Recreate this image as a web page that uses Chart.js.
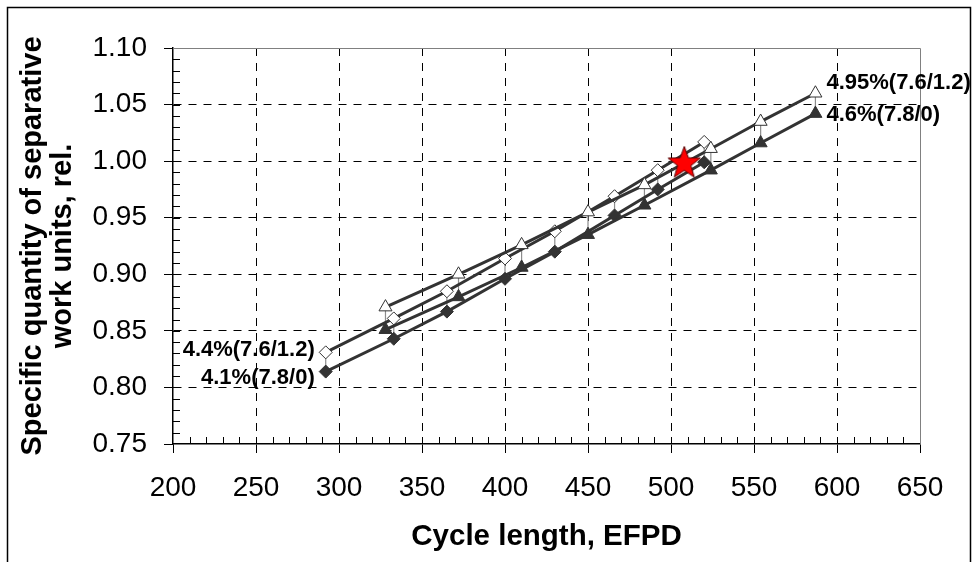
<!DOCTYPE html>
<html>
<head>
<meta charset="utf-8">
<script src="https://cdn.jsdelivr.net/npm/chart.js@4.4.1/dist/chart.umd.min.js"></script>
<style>
  html, body { margin: 0; padding: 0; background: #fff; }
  #wrap { width: 975px; height: 562px; position: relative; }
</style>
</head>
<body>
<div id="wrap"><canvas id="swu-chart"></canvas></div>
<script>
// Triangle pair (open = 4.95% 7.6/1.2, filled = 4.6% 7.8/0)
const X_TRI        = [328, 372, 410, 450, 484, 524, 554, 587];
const Y_TRI_OPEN   = [0.871, 0.900, 0.926, 0.955, 0.979, 1.011, 1.035, 1.060];
const Y_TRI_FILLED = [0.851, 0.880, 0.906, 0.935, 0.961, 0.992, 1.016, 1.042];

// Diamond pair (open = 4.4% 7.6/1.2, filled = 4.1% 7.8/0)
const X_DIA        = [292, 333, 365, 400, 430, 466, 492, 520];
const Y_DIA_OPEN   = [0.831, 0.861, 0.885, 0.914, 0.938, 0.969, 0.992, 1.017];
const Y_DIA_FILLED = [0.814, 0.843, 0.867, 0.896, 0.920, 0.952, 0.975, 0.999];

// Reference point (red star)
const STAR_X = [508];
const STAR_Y = [0.998];

const SERIES_LABELS = ["4.95%(7.6/1.2)", "4.6%(7.8/0)", "4.4%(7.6/1.2)", "4.1%(7.8/0)"];

const X_MIN = 200, X_MAX = 650, X_STEP = 50, X_MINOR = 10;
const Y_MIN = 0.75, Y_MAX = 1.10, Y_STEP = 0.05, Y_MINOR = 0.01;

const FONT = "'Liberation Sans', Arial, sans-serif";
const LINE = "#333333";

function pts(xs, ys) {
    return xs.map((x, i) => ({ x: x, y: ys[i] }));
}

// vertical thin connectors between an open marker and its filled twin
function connectors(xs, yTop, yBot) {
    const out = [];
    xs.forEach((x, i) => {
        out.push({ x: x, y: yTop[i] });
        out.push({ x: x, y: yBot[i] });
        out.push({ x: x, y: null });
    });
    return out;
}

function makeStar(outer, inner) {
    const size = Math.ceil(outer * 2 + 4);
    const c = document.createElement("canvas");
    c.width = size; c.height = size;
    const g = c.getContext("2d");
    const cx = size / 2, cy = size / 2;
    g.beginPath();
    for (let i = 0; i < 10; i++) {
        const r = i % 2 === 0 ? outer : inner;
        const a = -Math.PI / 2 + i * Math.PI / 5;
        const px = cx + r * Math.cos(a), py = cy + r * Math.sin(a);
        if (i === 0) g.moveTo(px, py); else g.lineTo(px, py);
    }
    g.closePath();
    g.fillStyle = "#ff0000";
    g.fill();
    g.lineWidth = 1;
    g.strokeStyle = "#550000";
    g.stroke();
    return c;
}

function series(label, xs, ys, style, filled, order) {
    return {
        label: label,
        data: pts(xs, ys),
        showLine: true,
        borderColor: LINE,
        borderWidth: 3,
        pointStyle: style,
        pointRadius: style === "triangle" ? 7.5 : 6.5,
        pointBackgroundColor: filled ? LINE : "#ffffff",
        pointBorderColor: LINE,
        pointBorderWidth: 1,
        order: order,
    };
}

// frame, plot border, minor ticks and end-of-line labels
const decorPlugin = {
    id: "decor",
    beforeDraw(chart) {
        const ctx = chart.ctx;
        ctx.save();
        ctx.fillStyle = "#fff";
        ctx.fillRect(0, 0, chart.width, chart.height);
        ctx.restore();
    },
    afterDraw(chart) {
        const ctx = chart.ctx;
        const { left, right, top, bottom } = chart.chartArea;
        const xs = chart.scales.x, ys = chart.scales.y;
        ctx.save();

        // outer frame
        ctx.strokeStyle = "#000";
        ctx.lineWidth = 1.5;
        ctx.beginPath();
        ctx.moveTo(7.5, chart.height + 2);
        ctx.lineTo(7.5, 7.5);
        ctx.lineTo(970.5, 7.5);
        ctx.lineTo(970.5, chart.height + 2);
        ctx.stroke();

        // top / right border of the plot area
        ctx.strokeStyle = "#808080";
        ctx.lineWidth = 1;
        ctx.beginPath();
        ctx.moveTo(Math.round(left) + 0.5, Math.round(top) + 0.5);
        ctx.lineTo(Math.round(right) + 0.5, Math.round(top) + 0.5);
        ctx.lineTo(Math.round(right) + 0.5, Math.round(bottom) + 0.5);
        ctx.stroke();

        // minor ticks, pointing into the plot
        ctx.strokeStyle = "#000";
        ctx.lineWidth = 1;
        ctx.beginPath();
        for (let v = X_MIN + X_MINOR; v < X_MAX; v += X_MINOR) {
            const px = Math.round(xs.getPixelForValue(v)) + 0.5;
            ctx.moveTo(px, bottom);
            ctx.lineTo(px, bottom - 7);
        }
        for (let k = 1; k < Math.round((Y_MAX - Y_MIN) / Y_MINOR); k++) {
            const py = Math.round(ys.getPixelForValue(Y_MIN + k * Y_MINOR)) + 0.5;
            ctx.moveTo(left, py);
            ctx.lineTo(left + 7, py);
        }
        ctx.stroke();

        // series labels anchored on the line ends
        ctx.fillStyle = "#000";
        ctx.font = "bold 22px " + FONT;
        ctx.textBaseline = "middle";
        const last = X_TRI.length - 1;
        ctx.textAlign = "left";
        ctx.fillText(SERIES_LABELS[0],
            xs.getPixelForValue(X_TRI[last]) + 11, ys.getPixelForValue(Y_TRI_OPEN[last]) - 10);
        ctx.fillText(SERIES_LABELS[1],
            xs.getPixelForValue(X_TRI[last]) + 11, ys.getPixelForValue(Y_TRI_FILLED[last]) + 1);
        ctx.textAlign = "right";
        ctx.fillText(SERIES_LABELS[2],
            xs.getPixelForValue(X_DIA[0]) - 11, ys.getPixelForValue(Y_DIA_OPEN[0]) - 2);
        ctx.fillText(SERIES_LABELS[3],
            xs.getPixelForValue(X_DIA[0]) - 11, ys.getPixelForValue(Y_DIA_FILLED[0]) + 6);
        ctx.restore();
    },
};

const edgeX = v => v === X_MIN || v === X_MAX;
const edgeY = v => Math.abs(v - Y_MIN) < 1e-6 || Math.abs(v - Y_MAX) < 1e-6;

new Chart(document.getElementById("swu-chart"), {
    type: "scatter",
    data: {
        datasets: [
            {
                label: "star",
                data: pts(STAR_X, STAR_Y),
                pointStyle: makeStar(17, 7),
                pointRadius: 17,
                order: 0,
            },
            series(SERIES_LABELS[0], X_TRI, Y_TRI_OPEN, "triangle", false, 1),
            series(SERIES_LABELS[1], X_TRI, Y_TRI_FILLED, "triangle", true, 2),
            series(SERIES_LABELS[2], X_DIA, Y_DIA_OPEN, "rectRot", false, 3),
            series(SERIES_LABELS[3], X_DIA, Y_DIA_FILLED, "rectRot", true, 4),
            {
                label: "tri links",
                data: connectors(X_TRI, Y_TRI_OPEN, Y_TRI_FILLED),
                showLine: true,
                spanGaps: false,
                borderColor: "#8c8c8c",
                borderWidth: 1.2,
                pointRadius: 0,
                order: 10,
            },
            {
                label: "dia links",
                data: connectors(X_DIA, Y_DIA_OPEN, Y_DIA_FILLED),
                showLine: true,
                spanGaps: false,
                borderColor: "#8c8c8c",
                borderWidth: 1.2,
                pointRadius: 0,
                order: 10,
            },
        ],
    },
    plugins: [decorPlugin],
    options: {
        responsive: true,
        maintainAspectRatio: false,
        animation: false,
        events: [],
        layout: { padding: { top: 48, right: 55, left: 0, bottom: 0 } },
        plugins: {
            legend: { display: false },
            tooltip: { enabled: false },
        },
        scales: {
            x: {
                type: "linear",
                min: X_MIN,
                max: X_MAX,
                afterFit: s => { s.height = 118; },
                ticks: {
                    stepSize: X_STEP,
                    padding: 18,
                    color: "#000",
                    font: { family: FONT, size: 28 },
                    maxRotation: 0,
                },
                grid: {
                    color: c => edgeX(c.tick && c.tick.value) ? "rgba(0,0,0,0)" : "#000",
                    tickColor: "#000",
                    tickLength: 9,
                    lineWidth: 1,
                },
                border: { display: true, color: "#000", width: 1.5, dash: [8, 7] },
                title: {
                    display: true,
                    text: "Cycle length, EFPD",
                    color: "#000",
                    font: { family: FONT, size: 29.5, weight: "bold" },
                    padding: { top: 0, bottom: 7 },
                },
            },
            y: {
                type: "linear",
                min: Y_MIN,
                max: Y_MAX,
                afterFit: s => { s.width = 173; },
                ticks: {
                    stepSize: Y_STEP,
                    padding: 17,
                    color: "#000",
                    font: { family: FONT, size: 28 },
                    callback: v => v.toFixed(2),
                },
                grid: {
                    color: c => edgeY(c.tick && c.tick.value) ? "rgba(0,0,0,0)" : "#000",
                    tickColor: "#000",
                    tickLength: 9,
                    lineWidth: 1,
                },
                border: { display: true, color: "#000", width: 1.5, dash: [8, 7] },
                title: {
                    display: true,
                    text: ["Specific quantity of separative", "work units, rel."],
                    color: "#000",
                    font: { family: FONT, size: 29, weight: "bold", lineHeight: 30 / 29 },
                    padding: { top: 18, bottom: 0 },
                },
            },
        },
    },
});
</script>
</body>
</html>
